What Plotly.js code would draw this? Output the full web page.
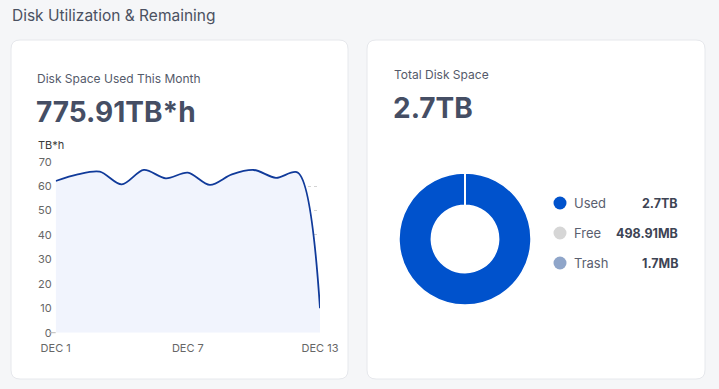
<!DOCTYPE html>
<html><head><meta charset="utf-8">
<script src="https://cdn.plot.ly/plotly-3.0.1.min.js"></script>
<style>html,body{margin:0;padding:0;background:#f5f6f8;}#chart{width:719px;height:389px;}</style>
</head><body><div id="chart"></div>
<script>
// ---- data ----
const days = [1,2,3,4,5,6,7,8,9,10,11,12,13];
const usage = [62.1,64.8,65.9,60.7,66.6,63.2,65.5,60.5,64.8,66.6,63.4,65.5,10.0];
const tickVals = [1,7,13];
const tickText = ['DEC 1','DEC 7','DEC 13'];
const diskLabels = ['Used','Free','Trash'];
const diskBytes = [2.7e12, 498.91e6, 1.7e6];
const diskText = ['2.7TB','498.91MB','1.7MB'];
const diskColors = ['#0052cc','#d6d6d6','#8fa5c9'];

// ---- helpers (pixel -> paper) ----
const W = 719, H = 389;
const px = x => x / W;
const py = y => 1 - y / H;
function roundRect(x0, y0, x1, y1, r) {
  const X = px, Y = py;
  return `M ${X(x0+r)},${Y(y0)} L ${X(x1-r)},${Y(y0)} Q ${X(x1)},${Y(y0)} ${X(x1)},${Y(y0+r)} ` +
         `L ${X(x1)},${Y(y1-r)} Q ${X(x1)},${Y(y1)} ${X(x1-r)},${Y(y1)} ` +
         `L ${X(x0+r)},${Y(y1)} Q ${X(x0)},${Y(y1)} ${X(x0)},${Y(y1-r)} ` +
         `L ${X(x0)},${Y(y0+r)} Q ${X(x0)},${Y(y0)} ${X(x0+r)},${Y(y0)} Z`;
}

const FONT = 'Inter, "Noto Sans", sans-serif';

const traces = [
  {
    type: 'scatter', mode: 'lines', x: days, y: usage,
    line: {color: '#103a9a', width: 1.8, shape: 'spline', smoothing: 0.9},
    fill: 'tozeroy', fillcolor: '#f1f4fd',
    hoverinfo: 'skip', showlegend: false, cliponaxis: false
  },
  {
    type: 'pie', labels: diskLabels, values: diskBytes,
    marker: {colors: diskColors, line: {color: '#ffffff', width: 1.5}},
    hole: 0.51, sort: false, direction: 'clockwise', rotation: 0,
    textinfo: 'none', hoverinfo: 'skip', showlegend: false,
    domain: {x: [px(399), px(531)], y: [py(305), py(173)]}
  }
];

const shapes = [
  {type: 'path', xref: 'paper', yref: 'paper', path: roundRect(11, 40, 348, 379, 9),
   fillcolor: '#ffffff', line: {color: '#e6e8ec', width: 1}, layer: 'below'},
  {type: 'path', xref: 'paper', yref: 'paper', path: roundRect(367, 40, 705, 379, 9),
   fillcolor: '#ffffff', line: {color: '#e6e8ec', width: 1}, layer: 'below'},
  {type: 'line', xref: 'paper', yref: 'paper', x0: px(49), x1: px(55.7), y0: py(332.7), y1: py(332.7),
   line: {color: '#bbbbbb', width: 1}}
];

const annotations = [
  {text: 'Disk Utilization & Remaining', x: px(10), y: py(15), xanchor: 'left', yanchor: 'middle',
   font: {family: FONT, size: 15.5, color: '#4b5161'}},
  {text: 'Disk Space Used This Month', x: px(35), y: py(78), xanchor: 'left', yanchor: 'middle',
   font: {family: FONT, size: 12, color: '#545a6a'}},
  {text: '<b>775.91TB*h</b>', x: px(34), y: py(112), xanchor: 'left', yanchor: 'middle',
   font: {family: FONT, size: 28, color: '#454e64'}},
  {text: 'TB*h', x: px(36), y: py(145), xanchor: 'left', yanchor: 'middle',
   font: {family: FONT, size: 11, color: '#3a3a3a'}},
  {text: 'Total Disk Space', x: px(392), y: py(74), xanchor: 'left', yanchor: 'middle',
   font: {family: FONT, size: 12, color: '#545a6a'}},
  {text: '<b>2.7TB</b>', x: px(391), y: py(108), xanchor: 'left', yanchor: 'middle',
   font: {family: FONT, size: 28, color: '#454e64'}}
];

const legendY = [203, 233, 263];
diskLabels.forEach((lab, i) => {
  shapes.push({type: 'circle', xref: 'paper', yref: 'paper',
    x0: px(553.5), x1: px(566.5), y0: py(legendY[i] + 6.5), y1: py(legendY[i] - 6.5),
    fillcolor: diskColors[i], line: {width: 0}});
  annotations.push({text: lab, x: px(572), y: py(legendY[i]), xanchor: 'left', yanchor: 'middle',
    font: {family: FONT, size: 13, color: '#5a6070'}});
  annotations.push({text: '<b>' + diskText[i] + '</b>', x: px(680), y: py(legendY[i]), xanchor: 'right', yanchor: 'middle',
    font: {family: FONT, size: 12.5, color: '#3d4454'}});
});
annotations.forEach(a => { a.xref = 'paper'; a.yref = 'paper'; a.showarrow = false; });

const layout = {
  width: W, height: H, margin: {l: 0, r: 0, t: 0, b: 0},
  paper_bgcolor: '#f5f6f8', plot_bgcolor: 'rgba(0,0,0,0)',
  font: {family: FONT},
  xaxis: {domain: [px(55.7), px(320)], range: [1, 13], tickvals: tickVals, ticktext: tickText,
    showgrid: false, zeroline: false, showline: false, ticks: '',
    tickfont: {family: FONT, size: 11, color: '#666666'}, ticklabelstandoff: 7, fixedrange: true},
  yaxis: {domain: [py(332.7), py(160.7)], range: [0, 70.4], tickvals: [0,10,20,30,40,50,60,70],
    showgrid: true, gridcolor: '#d4d4d4', griddash: 'dot', gridwidth: 1,
    zeroline: false, showline: false, ticks: '',
    tickfont: {family: FONT, size: 11, color: '#666666'}, ticklabelstandoff: 3, fixedrange: true},
  shapes: shapes, annotations: annotations
};

Plotly.newPlot('chart', traces, layout, {displayModeBar: false, staticPlot: true});
</script>
</body></html>
